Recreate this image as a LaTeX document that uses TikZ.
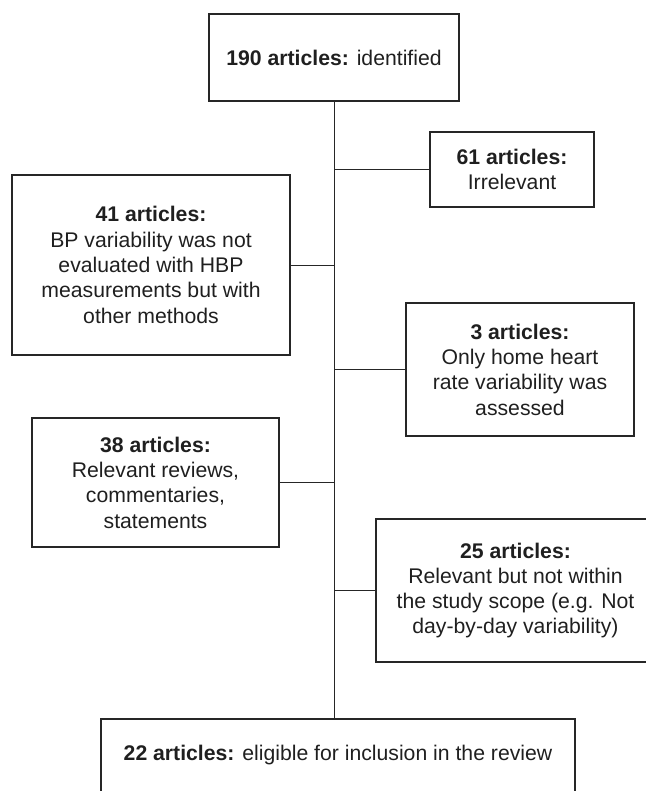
\documentclass[tikz,border=0pt]{standalone}
\usepackage{fontspec}
\setmainfont{Liberation Sans}
\usetikzlibrary{calc,positioning}

\begin{document}
\begin{tikzpicture}[x=0.5pt,y=-0.5pt,
  box/.style={draw=black!85,line width=0.6pt,text=black!88,align=center,inner sep=0pt,
    font=\fontsize{10.6}{12.65}\selectfont},
  link/.style={draw=black!85,line width=0.5pt}]

\useasboundingbox (0,0) rectangle (645,791);

\node[box,minimum width=125pt,minimum height=43.5pt] (top) at (334,57.5) {\textbf{190 articles:} identified};

\node[box,minimum width=82pt,minimum height=37.5pt] (irrel) at (512,169.5) {\textbf{61 articles:}\\Irrelevant};
\node[box,minimum width=139pt,minimum height=90pt] (other) at (151,265) {\textbf{41 articles:}\\BP variability was not\\evaluated with HBP\\measurements but with\\other methods};
\node[box,minimum width=114pt,minimum height=66.5pt] (heart) at (520,369.5) {\textbf{3 articles:}\\Only home heart\\rate variability was\\assessed};
\node[box,minimum width=123.5pt,minimum height=64.5pt] (review) at (155.5,482.5) {\textbf{38 articles:}\\Relevant reviews,\\commentaries,\\statements};
\node[box,minimum width=139.5pt,minimum height=71.5pt] (scope) at (515.5,590.5) {\textbf{25 articles:}\\Relevant but not within\\the study scope (e.g. Not\\day-by-day variability)};

\node[box,minimum width=237pt,minimum height=38pt,text depth=4pt] (final) at (338,757) {\textbf{22 articles:} eligible for inclusion in the review};

\draw[link] (top.south) -- (top.south |- final.north);

\draw[link] (irrel.west) -- (irrel.west -| top.south);
\draw[link] (other.east) -- (other.east -| top.south);
\draw[link] (heart.west) -- (heart.west -| top.south);
\draw[link] (review.east) -- (review.east -| top.south);
\draw[link] (scope.west) -- (scope.west -| top.south);

\end{tikzpicture}
\end{document}
